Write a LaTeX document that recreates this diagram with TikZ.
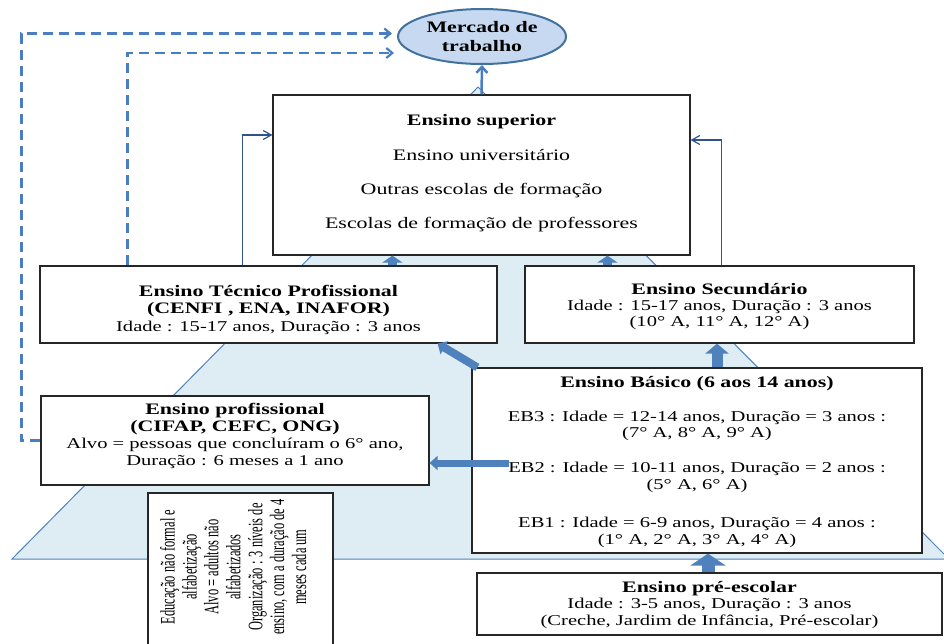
\documentclass[tikz,border=0pt]{standalone}
\usepackage{fontspec}
\setmainfont{Liberation Serif}[FakeStretch=1.37]
\newfontfamily\narrowserif{Liberation Serif}
\usetikzlibrary{arrows.meta,shapes.geometric}
\definecolor{trapfill}{RGB}{222,236,244}
\definecolor{trapline}{RGB}{79,129,189}
\definecolor{arrowc}{RGB}{79,129,189}
\definecolor{dashc}{RGB}{74,126,193}
\definecolor{navyc}{RGB}{47,82,143}
\definecolor{ellfill}{RGB}{198,217,240}
\definecolor{elldraw}{RGB}{65,113,156}
\definecolor{boxc}{RGB}{38,38,38}
\newcommand\hdf{\fontsize{16}{17.5}\selectfont\bfseries}
\begin{document}
\begin{tikzpicture}[x=1pt,y=-1pt,
  box/.style={draw=boxc, line width=1.2pt, fill=white, inner sep=0pt},
  txt/.style={align=center, inner sep=0pt, font=\fontsize{15}{17.5}\selectfont},
  blk/.style n args={3}{draw=arrowc, line width=#1, -{Triangle[width=#2, length=#3]}},
  thinarr/.style={draw=navyc, line width=1.2pt, -{Straight Barb[length=8pt, width=9pt]}},
  dsh/.style={draw=dashc, line width=2.2pt, dash pattern=on 10pt off 6pt, -{Straight Barb[length=6pt, width=10pt]}},
  upar/.style={draw=dashc, line width=2.5pt, -{Straight Barb[length=6pt, width=11pt]}}
]
\useasboundingbox (0,0) rectangle (944,643);
\clip (0,0) rectangle (944,643);

% pyramid background
\filldraw[fill=trapfill, draw=trapline, line width=1pt] (478,87) -- (12,559) -- (949,559) -- cycle;

% boxes
\node[box, minimum width=417pt, minimum height=160pt] (sup) at (481.5,175) {};
\node[box, minimum width=457pt, minimum height=77pt] (tec) at (268.5,304.5) {};
\node[box, minimum width=389pt, minimum height=77pt] (sec) at (719.5,304.5) {};
\node[box, minimum width=450pt, minimum height=185pt] (bas) at (697,460.5) {};
\node[box, minimum width=388pt, minimum height=89pt] (prof) at (235,440.5) {};
\node[box, minimum width=465pt, minimum height=62pt] (pre) at (709.5,604) {};
\node[box, minimum width=185pt, minimum height=167pt] (nf) at (240.5,576.5) {};
\node[ellipse, draw=elldraw, line width=2pt, fill=ellfill, minimum width=168pt, minimum height=55pt, inner sep=0pt,
      align=center, font=\fontsize{16}{19}\selectfont\bfseries] (merc) at (482,36.5) {Mercado de\\trabalho};

% texts
\node[txt, font=\fontsize{16}{34.3}\selectfont] (sup-t) at (481.5,173.5)
  {{\bfseries Ensino superior}\\Ensino universitário\\Outras escolas de formação\\Escolas de formação de professores};
\node[txt] (tec-t) at (268.5,309.5)
  {{\hdf Ensino Técnico Profissional}\\{\hdf (CENFI , ENA, INAFOR)}\\Idade : 15-17 anos, Duração : 3 anos};
\node[txt, font=\fontsize{15}{16}\selectfont] (sec-t) at (719.5,307)
  {{\hdf Ensino Secundário}\\Idade : 15-17 anos, Duração : 3 anos\\(10° A, 11° A, 12° A)};
\node[txt, font=\fontsize{15}{16.5}\selectfont] (bas-t) at (697,462)
  {{\hdf Ensino Básico (6 aos 14 anos)}\\[17pt]
   EB3 : Idade = 12-14 anos, Duração = 3 anos :\\(7° A, 8° A, 9° A)\\[18.5pt]
   EB2 : Idade = 10-11 anos, Duração = 2 anos :\\(5° A, 6° A)\\[22pt]
   EB1 : Idade = 6-9 anos, Duração = 4 anos :\\(1° A, 2° A, 3° A, 4° A)};
\node[txt, font=\fontsize{15}{17.3}\selectfont] (prof-t) at (235,436)
  {{\hdf Ensino profissional}\\{\hdf (CIFAP, CEFC, ONG)}\\Alvo = pessoas que concluíram o 6° ano,\\Duração : 6 meses a 1 ano};
\node[txt, font=\fontsize{15}{16.5}\selectfont] (pre-t) at (709.5,605)
  {{\hdf Ensino pré-escolar}\\Idade : 3-5 anos, Duração : 3 anos\\(Creche, Jardim de Infância, Pré-escolar)};
\node[inner sep=0pt, rotate=90] (nf-t) at (236,567)
  {\scalebox{0.83}[1.37]{\narrowserif\fontsize{15}{16}\selectfont
   \begin{tabular}{@{}c@{}}Educação não formal e\\alfabetização\\Alvo = adultos não\\alfabetizados\\Organização : 3 níveis de\\ensino, com a duração de 4\\meses cada um\end{tabular}}};

% thin connectors
\coordinate (t1) at ([xshift=203pt]tec.north west);
\coordinate (t2) at ([xshift=197pt]sec.north west);
\draw[thinarr] (t1) |- ([yshift=40pt]sup.west);
\draw[thinarr] (t2) |- ([yshift=35pt]sup.east);

% dashed connectors
\coordinate (d1) at ([xshift=88pt]tec.north west);
\draw[dsh] (prof.west) -- ++(-19,0) |- ([shift={(-5pt,3pt)}]merc.west);
\draw[dsh] (d1) |- ([shift={(-3pt,-16.5pt)}]merc.west);

% up to labour market
\draw[upar] (sup.north) -- (merc.south);

% block arrows
\coordinate (a1) at ([xshift=20pt]bas.north);
\coordinate (a2) at ([xshift=83pt]sec.north west);
\coordinate (a3) at ([xshift=353pt]tec.north west);
\coordinate (a4) at ([xshift=6pt]bas.north west);
\coordinate (a5) at ([shift={(38pt,-2.5pt)}]bas.west);
\coordinate (a6) at ([xshift=-1.5pt]pre.north);
\draw[blk={11pt}{23pt}{10pt}] (a1) -- (a1 |- sec.south);
\draw[blk={9pt}{20pt}{7pt}] (a2) -- (a2 |- sup.south);
\draw[blk={9pt}{20pt}{7pt}] (a3) -- (a3 |- sup.south);
\draw[blk={8pt}{15pt}{8pt}] (a4) -- ([xshift=-60pt]tec.south east);
\draw[blk={7pt}{14pt}{8pt}] (a5) -- (a5 -| prof.east);
\draw[blk={13pt}{35pt}{12pt}] (a6) -- (a6 |- bas.south);
\end{tikzpicture}
\end{document}
